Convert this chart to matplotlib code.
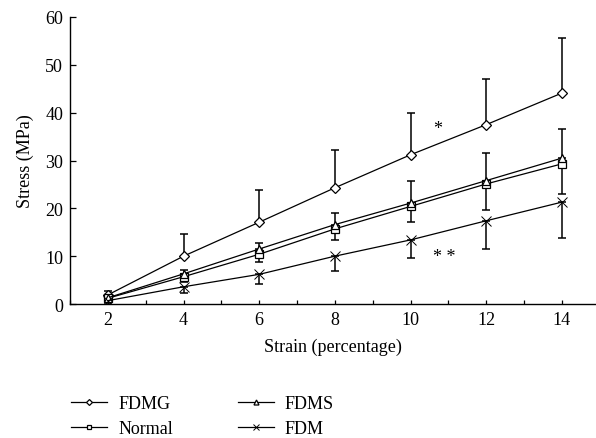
import matplotlib
matplotlib.use('Agg')
import matplotlib.pyplot as plt

plt.rcParams['font.family'] = ['Liberation Serif', 'DejaVu Serif']

strain = [2, 4, 6, 8, 10, 12, 14]

fdmg = [1.9, 10.0, 17.1, 24.3, 31.2, 37.5, 44.1]
fdmg_err = [0.8, 4.6, 6.8, 7.9, 8.7, 9.6, 11.6]

fdms = [1.3, 6.3, 11.5, 16.6, 21.1, 25.8, 30.5]
fdms_err = [0.5, 0.9, 1.3, 2.4, 4.7, 5.8, 6.1]

normal = [1.2, 5.7, 10.4, 15.7, 20.4, 25.1, 29.3]
normal_err = [0.4, 1.0, 1.6, 2.3, 3.3, 5.4, 6.4]

fdm = [0.7, 3.6, 6.2, 10.0, 13.4, 17.4, 21.3]
fdm_err = [0.4, 1.2, 2.0, 3.1, 3.8, 5.9, 7.6]

fig = plt.figure(figsize=(5.96, 4.39), dpi=100)
ax = fig.add_axes([70 / 596, 134 / 439, 526 / 596, 287 / 439])

zeros = [0] * len(strain)
# one-sided error bars: FDMG & FDMS up, Normal & FDM down
err_kw = dict(fmt='none', ecolor='black', elinewidth=1.1, capsize=3, capthick=1.1, zorder=2)
ax.errorbar(strain, fdmg, yerr=[zeros, fdmg_err], **err_kw)
ax.errorbar(strain, fdms, yerr=[zeros, fdms_err], **err_kw)
ax.errorbar(strain, normal, yerr=[normal_err, zeros], **err_kw)
ax.errorbar(strain, fdm, yerr=[fdm_err, zeros], **err_kw)

line_kw = dict(color='black', lw=0.9, mfc='white', mec='black', zorder=3)
ax.plot(strain, fdmg, marker='D', ms=5, mew=0.9, label='FDMG', **line_kw)
ax.plot(strain, normal, marker='s', ms=5.5, mew=0.9, label='Normal', **line_kw)
ax.plot(strain, fdms, marker='^', ms=6, mew=0.9, label='FDMS', **line_kw)
ax.plot(strain, fdm, marker='x', ms=6.5, mew=0.7, label='FDM', **line_kw)

ax.text(10.71, 36.6, '*', fontsize=13, ha='center', va='center')
ax.text(10.9, 10.0, '* *', fontsize=13, ha='center', va='center')

ax.set_xlim(1, 14.9)
ax.set_ylim(0, 60)
ax.set_xticks(range(1, 15))
ax.set_xticklabels([str(v) if v % 2 == 0 else '' for v in range(1, 15)])
ax.set_yticks(range(0, 61, 10))
ax.tick_params(axis='x', direction='in', length=3, width=0.9, labelsize=13, pad=5)
ax.tick_params(axis='y', direction='in', length=4, width=0.9, labelsize=13, pad=5)

for s in ['top', 'right']:
    ax.spines[s].set_visible(False)
for s in ['left', 'bottom']:
    ax.spines[s].set_linewidth(1.0)

ax.set_xlabel('Strain (percentage)', fontsize=13, labelpad=7)
ax.set_ylabel('Stress (MPa)', fontsize=13, labelpad=8)

fig.legend(loc='upper left', bbox_to_anchor=(55 / 596, 1 - 380 / 439), ncol=2,
           frameon=False, fontsize=13, handlelength=2.0, handletextpad=0.6,
           columnspacing=3.6, labelspacing=0.45, markerscale=0.6)

fig.savefig('out.png', dpi=100)
